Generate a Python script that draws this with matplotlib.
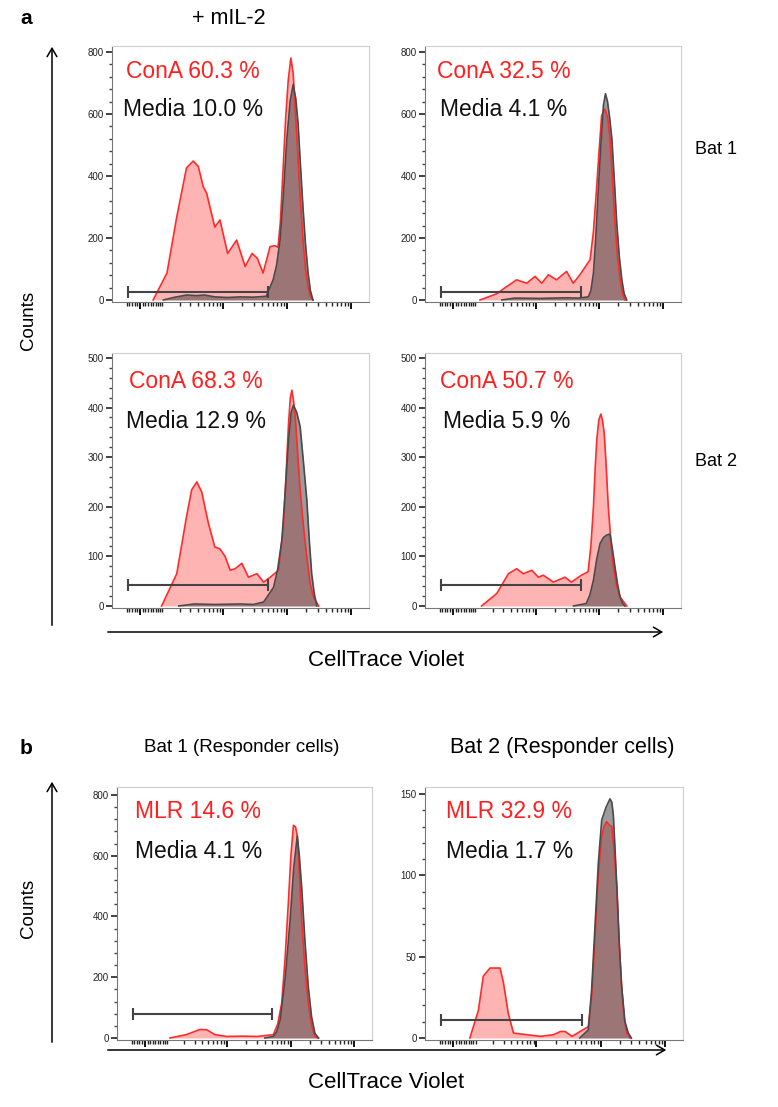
import numpy as np
import matplotlib
matplotlib.use("Agg")
import matplotlib.pyplot as plt
from matplotlib.ticker import MultipleLocator
from matplotlib.patches import FancyArrowPatch

plt.rcParams['font.family'] = ['Liberation Sans', 'DejaVu Sans']

W, H = 778, 1107

# --- data: channel position (0-100 across the plot) and counts ---
# a, Bat 1, left column
b1_cona_x = [16, 21.4, 25.2, 29, 31.6, 33.6, 35.5, 36.8, 40, 42, 45, 48.5, 51.8, 54.5, 56.5, 58.8,
             61.5, 63.4, 64.6, 65.5, 66.5, 67.6, 68.6, 69.6, 70.5, 71.4, 72.4, 73.3, 74.3, 75.3,
             76.3, 77.2, 78.2]
b1_cona_y = [0, 87, 268, 426, 448, 430, 365, 345, 235, 258, 150, 193, 108, 150, 135, 87,
             172, 175, 170, 250, 410, 590, 710, 780, 730, 600, 460, 320, 193, 100,
             42, 12, 0]
b1_media_x = [20, 24, 29, 33, 36, 40, 45, 50, 55, 60, 62.7, 64, 65.4, 66.7, 68, 69.3, 70.5, 71.5,
              72.4, 73.3, 74.3, 75.3, 76.3, 77.2, 78.2]
b1_media_y = [0, 8, 16, 14, 16, 10, 8, 10, 9, 12, 65, 110, 193, 340, 516, 640, 695, 650,
              570, 440, 300, 180, 87, 30, 0]

# a, Bat 1, right column
b1r_cona_x = [21.5, 28, 31.9, 35.8, 39.7, 43, 45.6, 48.2, 51.4, 55.3, 57.9, 60.5, 64.5, 65.8, 67,
              68, 69, 70.3, 71.3, 72.3, 73.2, 74.2, 75.2, 76.2, 77.2, 78.1]
b1r_cona_y = [0, 20, 43, 65, 54, 76, 54, 81, 65, 92, 54, 81, 130, 220, 357,
              480, 595, 615, 590, 520, 390, 249, 140, 65, 20, 0]
b1r_media_x = [30, 35, 45, 55, 60, 63.8, 64.8, 65.8, 66.7, 67.7, 68.7, 69.7, 70.5, 71.3, 72.1, 73,
               74, 74.9, 75.9, 76.9, 77.8, 78.8]
b1r_media_y = [0, 6, 5, 7, 6, 10, 30, 87, 200, 357, 500, 628, 665, 640, 590, 520,
               380, 249, 140, 65, 20, 0]

# a, Bat 2, left column
b2_cona_x = [19.3, 25.2, 29, 31, 33, 34.9, 37.5, 40, 42, 44, 46, 47.9, 50.5, 53.1, 56.4, 59,
             61.6, 64.8, 66.7, 67.7, 68.7, 69.4, 70, 70.6, 71.3, 72.2, 73.2, 74.5, 75.8, 77.1,
             78.4, 80.4]
b2_cona_y = [0, 65, 180, 234, 250, 230, 167, 119, 115, 100, 72, 75, 86, 58, 65, 48,
             58, 72, 160, 260, 369, 420, 435, 415, 382, 310, 234, 160, 99, 45,
             18, 0]
b2_media_x = [26, 32, 40, 50, 55, 59, 62.9, 64.5, 66.1, 67.4, 68.7, 69.7, 70.6, 71.9, 73.2, 74.5,
              75.8, 76.8, 77.7, 78.7, 79.7]
b2_media_y = [0, 4, 3, 4, 3, 8, 38, 75, 133, 230, 335, 390, 405, 390, 362, 290,
              214, 130, 65, 25, 0]

# a, Bat 2, right column
b2r_cona_x = [22.1, 28, 32.6, 35.8, 38.4, 41.7, 44.3, 46.2, 48.2, 50.1, 54.7, 57.2, 61.1, 63.7,
              64.8, 65.8, 66.5, 67.1, 67.9, 68.7, 69.3, 70, 70.8, 71.6, 72.6, 73.6, 74.9, 76.2, 78.8]
b2r_cona_y = [0, 25, 65, 75, 65, 72, 58, 62, 55, 48, 58, 48, 62, 69,
              120, 200, 280, 335, 375, 387, 375, 349, 280, 200, 130, 79, 40, 18, 0]
b2r_media_x = [58, 63, 64.4, 65.8, 67.1, 68.4, 69.7, 71, 72.3, 73.2, 74.2, 75.2, 76.2, 77.2, 78.1]
b2r_media_y = [0, 5, 22, 52, 95, 126, 138, 143, 145, 115, 79, 45, 18, 5, 0]

# b, MLR responder cells, Bat 1
mlr1_x = [20.8, 27.2, 32.5, 35.2, 38.4, 43, 49.5, 55, 61.3, 63, 64.6, 65.9, 67.2, 68.2, 69.2, 70,
          70.7, 71.5, 72.4, 73.7, 75, 76.3, 77.6, 79]
mlr1_y = [0, 11, 28, 27, 11, 5, 6, 5, 11, 45, 115, 260, 445, 600, 700, 695,
          665, 540, 389, 230, 115, 40, 5, 0]
mlr1_media_x = [58, 61.3, 62.6, 64, 66, 67.9, 69.3, 70.7, 71.5, 72.4, 73.7, 75, 76.3, 77.6, 79]
mlr1_media_y = [0, 5, 20, 60, 200, 389, 560, 665, 600, 499, 320, 170, 70, 16, 0]

# b, MLR responder cells, Bat 2
mlr2_x = [17.4, 20.7, 22.6, 25.2, 29.1, 30.4, 32.3, 34.3, 44.7, 49.8, 52.5, 54.3, 57, 63.3, 64.6,
          65.9, 67.2, 68.5, 69.4, 70.4, 71.4, 72.4, 73.3, 74.3, 75.2, 76.2, 77.2, 78.2, 79.5]
mlr2_y = [0, 17, 38, 43, 43, 34, 15, 3, 1, 2, 4, 4, 1, 7, 25,
          62, 100, 124, 130, 133, 131, 130, 115, 93, 60, 32, 12, 3, 0]
mlr2_media_x = [60, 63.3, 64.6, 65.9, 67.2, 68.5, 70.2, 71.7, 72.4, 73, 73.7, 74.5, 75.3, 76.2,
                77.5, 78.8, 80]
mlr2_media_y = [0, 5, 30, 69, 108, 134, 142, 147, 145, 137, 115, 88, 58, 32, 10, 3, 0]

# gate heights and ends, percentages, y ranges
gate_lo, gate_hi = 6.2, 60.8
gate_y = [26, 26, 42, 42, 80, 11]
stim_labels = ['ConA 60.3 %', 'ConA 32.5 %', 'ConA 68.3 %', 'ConA 50.7 %', 'MLR 14.6 %', 'MLR 32.9 %']
media_labels = ['Media 10.0 %', 'Media 4.1 %', 'Media 12.9 %', 'Media 5.9 %', 'Media 4.1 %', 'Media 1.7 %']
y_top = [819, 819, 510, 510, 826, 154.3]
y_step = [200, 200, 100, 100, 200, 50]

stim_x = [b1_cona_x, b1r_cona_x, b2_cona_x, b2r_cona_x, mlr1_x, mlr2_x]
stim_y = [b1_cona_y, b1r_cona_y, b2_cona_y, b2r_cona_y, mlr1_y, mlr2_y]
med_x = [b1_media_x, b1r_media_x, b2_media_x, b2r_media_x, mlr1_media_x, mlr2_media_x]
med_y = [b1_media_y, b1r_media_y, b2_media_y, b2r_media_y, mlr1_media_y, mlr2_media_y]

# panel boxes in pixels: left, top, right, bottom
boxes = [(112, 46, 369, 302), (425, 46, 681, 302),
         (112, 353, 369, 608), (425, 353, 681, 608),
         (117, 787, 372, 1040), (425, 787, 683, 1040)]
text_pos = [((126, 72), (123, 110)), ((437, 72), (440, 110)),
            ((129, 381), (126, 421)), ((440, 381), (443, 422)),
            ((135, 811), (135, 851)), ((446, 812), (446, 852))]


def ctv_channel(v, w=50.5, dec=24.9, zero=10.9):
    # biexponential-like display used for the CTV axis ticks
    return zero + dec * np.arcsinh(np.asarray(v, float) / (2 * w)) / np.log(10)


major_vals = [0, 1e3, 1e4, 1e5]
minor_vals = (list(range(-50, 0, 10)) + list(range(10, 100, 10)) + list(range(200, 1000, 100))
              + list(range(2000, 10000, 1000)) + list(range(20000, 100000, 10000)))

fig = plt.figure(figsize=(W / 100, H / 100), dpi=100)

red_line = '#ff2a2a'
red_fill = '#ff6b6b'
grey_line = '#4a4a4a'

for i, (l, t, r, b) in enumerate(boxes):
    ax = fig.add_axes([l / W, 1 - b / H, (r - l) / W, (b - t) / H])
    ax.fill_between(stim_x[i], stim_y[i], 0, color=red_fill, alpha=0.5, lw=0)
    ax.plot(stim_x[i], stim_y[i], color=red_line, lw=1.2)
    ax.fill_between(med_x[i], med_y[i], 0, color='#3a3a3a', alpha=0.5, lw=0)
    ax.plot(med_x[i], med_y[i], color=grey_line, lw=1.2)
    ax.plot([gate_lo, gate_hi], [gate_y[i], gate_y[i]], color='#444444', lw=1.5,
            marker='|', markersize=8, mew=1.5)

    ax.set_xlim(0, 100)
    ax.set_ylim(-y_top[i] * 0.008, y_top[i])
    ax.yaxis.set_major_locator(MultipleLocator(y_step[i]))
    ax.yaxis.set_minor_locator(MultipleLocator(y_step[i] / 5))
    ax.set_xticks(ctv_channel(major_vals))
    ax.set_xticks(ctv_channel(minor_vals), minor=True)
    ax.set_xticklabels([])
    ax.tick_params(axis='y', which='major', length=4, width=1.2, labelsize=7,
                   colors='#222222', pad=2)
    ax.tick_params(axis='y', which='minor', length=2, width=1, colors='#444444')
    ax.tick_params(axis='x', which='major', length=5, width=1.4, colors='#111111')
    ax.tick_params(axis='x', which='minor', length=3, width=1.0, colors='#222222')
    for side in ['top', 'right']:
        ax.spines[side].set_color('#cfcfcf')
    for side in ['left', 'bottom']:
        ax.spines[side].set_color('#777777')

    (sx, sy), (mx, my) = text_pos[i]
    fig.text(sx / W, 1 - sy / H, stim_labels[i], color='#ff1f1f', fontsize=16.5, va='center')
    fig.text(mx / W, 1 - my / H, media_labels[i], color='#111111', fontsize=16.5, va='center')


def ftxt(x, y, s, **kw):
    fig.text(x / W, 1 - y / H, s, **kw)


def farrow(x0, y0, x1, y1):
    fig.add_artist(FancyArrowPatch((x0 / W, 1 - y0 / H), (x1 / W, 1 - y1 / H),
                                   transform=fig.transFigure, arrowstyle='->,head_length=6,head_width=3.5',
                                   color='black', lw=1.1))


ftxt(20, 18, 'a', fontsize=15, fontweight='bold', va='center')
ftxt(229, 18, '+ mIL-2', fontsize=15.5, ha='center', va='center')
ftxt(716, 150, 'Bat 1', fontsize=13, ha='center', va='center')
ftxt(716, 462, 'Bat 2', fontsize=13, ha='center', va='center')
ftxt(28, 320, 'Counts', fontsize=13.5, rotation=90, ha='center', va='center')
ftxt(386, 661, 'CellTrace Violet', fontsize=16, ha='center', va='center')
farrow(52, 628, 52, 44)
farrow(105, 632, 666, 632)

ftxt(20, 748, 'b', fontsize=15, fontweight='bold', va='center')
ftxt(242, 748, 'Bat 1 (Responder cells)', fontsize=13.5, ha='center', va='center')
ftxt(562, 748, 'Bat 2 (Responder cells)', fontsize=15.5, ha='center', va='center')
ftxt(28, 908, 'Counts', fontsize=13.5, rotation=90, ha='center', va='center')
ftxt(386, 1082, 'CellTrace Violet', fontsize=16, ha='center', va='center')
farrow(52, 1045, 52, 779)
farrow(105, 1050, 669, 1050)

fig.savefig('out.png', dpi=100)
